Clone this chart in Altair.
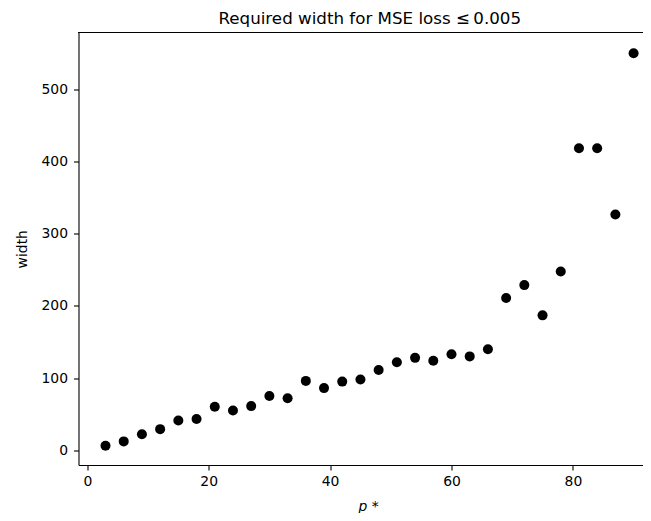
import altair as alt
import pandas as pd

p_star = [3, 6, 9, 12, 15, 18, 21, 24, 27, 30, 33, 36, 39, 42, 45,
          48, 51, 54, 57, 60, 63, 66, 69, 72, 75, 78, 81, 84, 87, 90]
width_vals = [6, 12, 22, 29, 41, 43, 60, 55, 61, 75, 72, 96, 86, 95, 98,
              111, 122, 128, 124, 133, 130, 140, 211, 229, 187, 248, 419, 419, 327, 551]

df = pd.DataFrame({"p": p_star, "w": width_vals})

W = 564.5
H = 432.5
FONT = "DejaVu Sans"

points = alt.Chart(df).mark_circle(size=100, color="black", opacity=1).encode(
    x=alt.X("p:Q",
            scale=alt.Scale(domain=[-1.45, 91.55], nice=False, zero=False),
            axis=alt.Axis(title="p *", values=[0, 20, 40, 60, 80], grid=False,
                          tickSize=5, labelPadding=4, titlePadding=12,
                          titleX=289.5, titleAlign="center",
                          titleFontStyle="italic", titleFontWeight="normal")),
    y=alt.Y("w:Q",
            scale=alt.Scale(domain=[-20.8, 579.8], nice=False, zero=False),
            axis=alt.Axis(title="width", values=[0, 100, 200, 300, 400, 500], grid=False,
                          tickSize=5, labelPadding=6, titleX=-49,
                          titleFontWeight="normal")),
)

top_spine = alt.Chart(df).mark_rule(color="black", strokeWidth=1.1).encode(
    x=alt.value(0), x2=alt.value(W), y=alt.value(0)
)

chart = alt.layer(points, top_spine).properties(
    width=W, height=H,
    title=alt.TitleParams("Required width for MSE loss ≤\u20090.005", fontSize=16.7,
                          font=FONT, fontWeight="normal", color="black",
                          anchor="middle", dx=9, offset=4.5),
    autosize=alt.AutoSizeParams(type="none"),
    padding={"left": 70.5, "top": 24.5, "right": 0, "bottom": 48},
).configure_view(stroke=None).configure_axis(
    labelFont=FONT, titleFont=FONT, labelFontSize=13.9, titleFontSize=13.9,
    labelColor="black", titleColor="black", domainColor="black", tickColor="black",
    domainWidth=1.1, tickWidth=1.1,
)

chart.save("out.html", embed_options={"renderer": "svg", "actions": False})
